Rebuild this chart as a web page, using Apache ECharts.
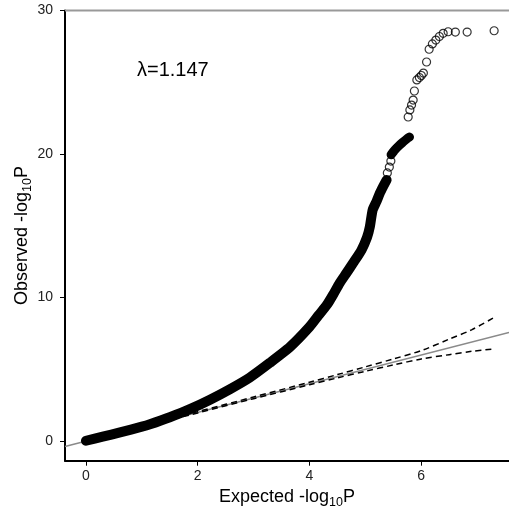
<!DOCTYPE html>
<html>
<head>
<meta charset="utf-8">
<script src="https://cdn.jsdelivr.net/npm/echarts@6/dist/echarts.min.js"></script>
<style>
  html, body { margin: 0; padding: 0; background: #ffffff; }
  #chart { width: 509px; height: 508px; }
</style>
</head>
<body>
<div id="chart"></div>
<script>
// Axis ticks
const xTicks = [0, 2, 4, 6];
const yTicks = [0, 10, 20, 30];

// Dense body of the QQ curve (expected vs observed -log10 P)
const denseExpected = [0.00, 0.30, 0.61, 1.00, 1.145, 1.50, 1.86, 2.22, 2.58, 2.93, 3.29, 3.65, 4.00, 4.16, 4.31, 4.43, 4.54, 4.66, 4.78, 4.93, 5.03, 5.08, 5.13, 5.20, 5.26, 5.32, 5.38];
const denseObserved = [0.02, 0.30, 0.60, 1.00, 1.17, 1.66, 2.22, 2.88, 3.62, 4.42, 5.45, 6.55, 7.95, 8.75, 9.48, 10.25, 11.01, 11.70, 12.40, 13.31, 14.20, 14.93, 16.10, 16.70, 17.28, 17.75, 18.19];

// Tight cluster of hits just above 20
const clusterExpected = [5.46, 5.53, 5.60, 5.67, 5.74, 5.79];
const clusterObserved = [19.95, 20.30, 20.58, 20.82, 21.05, 21.18];

// Individual top hits, drawn as open circles
const tailExpected = [5.393, 5.429, 5.456,
  5.766, 5.796, 5.826, 5.855, 5.877, 5.921, 5.966, 6.002, 6.038, 6.095, 6.141, 6.199, 6.261, 6.324, 6.392, 6.481, 6.610, 6.821, 7.304];
const tailObserved = [18.68, 19.09, 19.51,
  22.58, 23.07, 23.41, 23.76, 24.39, 25.16, 25.33, 25.47, 25.64, 26.41, 27.30, 27.67, 27.94, 28.19, 28.41, 28.52, 28.50, 28.50, 28.59];

// 95% confidence band around the null line
const ciExpected = [0.0, 2.0, 3.0, 4.0, 4.5, 5.0, 5.5, 6.0, 6.5, 6.9, 7.3];
const ciUpper    = [0.0, 2.05, 3.07, 4.10, 4.63, 5.17, 5.72, 6.30, 7.10, 7.75, 8.60];
const ciLower    = [0.0, 1.96, 2.95, 3.92, 4.40, 4.86, 5.30, 5.72, 6.02, 6.25, 6.42];

const lambdaLabel = 'λ=1.147';
const yCap = 30;

const X_MIN = -0.375, X_MAX = 7.57;
const Y_MIN = -1.37, Y_MAX = 30;

const zip = (a, b) => a.map((v, i) => [v, b[i]]);

const font = '"Liberation Sans", Arial, sans-serif';
const chart = echarts.init(document.getElementById('chart'), null, { renderer: 'canvas' });

const nameRich = {
  a: { fontSize: 18, color: '#000', fontFamily: font, lineHeight: 24, verticalAlign: 'middle' },
  s: { fontSize: 12.5, color: '#000', fontFamily: font, lineHeight: 24, verticalAlign: 'bottom' }
};

chart.setOption({
  animation: false,
  backgroundColor: '#ffffff',
  title: {
    text: lambdaLabel,
    left: 132, top: 55,
    textStyle: { fontSize: 20, fontWeight: 'normal', color: '#000', fontFamily: font }
  },
  grid: { left: 65, right: 0, top: 10.5, bottom: 47.3, containLabel: false, outerBoundsMode: 'none' },
  xAxis: {
    type: 'value', min: X_MIN, max: X_MAX,
    name: '{a|Expected -log}{s|10}{a|P}',
    nameLocation: 'middle', nameGap: 24,
    nameTextStyle: { rich: nameRich },
    axisLine: { show: true, onZero: false, lineStyle: { color: '#000', width: 2 } },
    axisTick: { show: true, customValues: xTicks, length: 5, lineStyle: { color: '#000', width: 1 } },
    axisLabel: { customValues: xTicks, margin: 8, fontSize: 14, color: '#222', fontFamily: font },
    splitLine: { show: false }
  },
  yAxis: {
    type: 'value', min: Y_MIN, max: Y_MAX,
    name: '{a|Observed -log}{s|10}{a|P}',
    nameLocation: 'middle', nameGap: 31, nameRotate: 90, nameMoveOverlap: false,
    nameTextStyle: { rich: nameRich },
    axisLine: { show: true, onZero: false, lineStyle: { color: '#000', width: 2 } },
    axisTick: { show: true, customValues: yTicks, length: 5, lineStyle: { color: '#000', width: 1 } },
    axisLabel: { customValues: yTicks, margin: 12, fontSize: 14, color: '#222', fontFamily: font },
    splitLine: { show: false }
  },
  series: [
    {
      // upper cap line
      type: 'line', data: [[X_MIN, yCap], [X_MAX, yCap]], symbol: 'none', clip: false,
      lineStyle: { color: '#999', width: 2 }, z: 1
    },
    {
      // null expectation y = x
      type: 'line', data: [[X_MIN, X_MIN], [X_MAX, X_MAX]], symbol: 'none',
      lineStyle: { color: '#8a8a8a', width: 1.5 }, z: 2
    },
    {
      type: 'line', data: zip(ciExpected, ciUpper), symbol: 'none', smooth: 0.3,
      lineStyle: { color: '#000', width: 1.5, type: [6, 4] }, z: 3
    },
    {
      type: 'line', data: zip(ciExpected, ciLower), symbol: 'none', smooth: 0.3,
      lineStyle: { color: '#000', width: 1.5, type: [6, 4] }, z: 3
    },
    {
      type: 'line', data: zip(denseExpected, denseObserved), symbol: 'none', smooth: 0.2,
      lineStyle: { color: '#000', width: 10, cap: 'round', join: 'round' }, z: 4
    },
    {
      type: 'line', data: zip(clusterExpected, clusterObserved), symbol: 'none', smooth: 0.2,
      lineStyle: { color: '#000', width: 9, cap: 'round', join: 'round' }, z: 4
    },
    {
      type: 'scatter', data: zip(tailExpected, tailObserved), symbol: 'circle', symbolSize: 8,
      itemStyle: { color: 'rgba(0,0,0,0)', borderColor: '#000', borderWidth: 1.2 }, z: 5
    }
  ]
});
</script>
</body>
</html>
